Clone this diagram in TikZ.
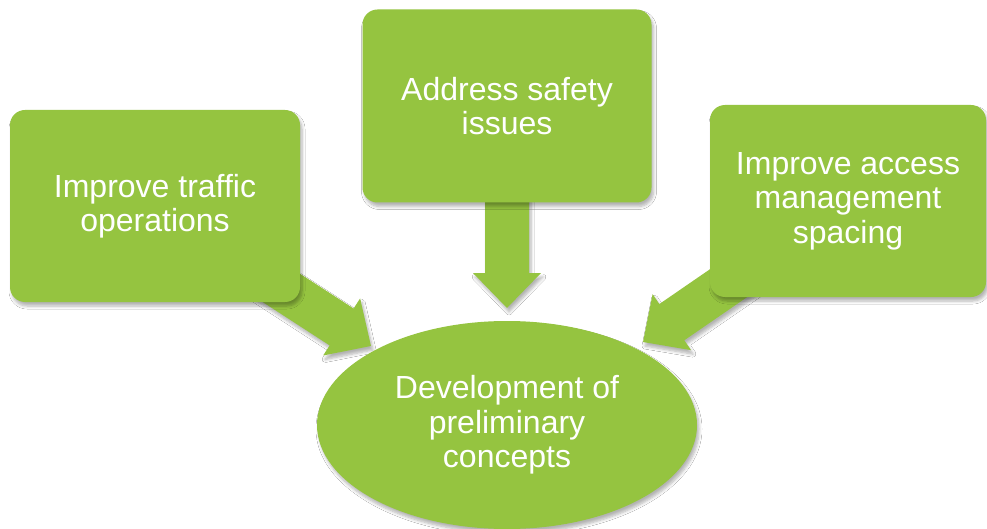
\documentclass[tikz,border=0pt]{standalone}
\usepackage{fontspec}
\setmainfont{Liberation Sans}
\usetikzlibrary{shapes.geometric}
\usetikzlibrary{calc}
\usetikzlibrary{backgrounds}
\usetikzlibrary{shadows.blur}

\definecolor{leaf}{RGB}{149,196,64}

\tikzset{
  soft/.style={blur shadow={shadow xshift=2pt, shadow yshift=-4pt,
      shadow blur radius=3pt, shadow blur steps=6, shadow opacity=30}},
  goal/.style={rectangle, rounded corners=15pt, fill=leaf, text=white,
      align=center, font=\fontsize{32}{34.5}\selectfont, soft},
  push/.style={fill=leaf, soft}
}

% fat arrow from #1 to the tip #2
\newcommand{\blockarrow}[2]{%
  \coordinate (base) at ($(#2)!35pt!(#1)$);
  \fill[push] ($(#1)!22pt!90:(#2)$) -- ($(base)!22pt!90:(#2)$)
    -- ($(base)!34pt!90:(#2)$) -- (#2) -- ($(base)!34pt!-90:(#2)$)
    -- ($(base)!22pt!-90:(#2)$) -- ($(#1)!22pt!-90:(#2)$) -- cycle;}

\begin{document}
\begin{tikzpicture}[x=1pt,y=-1pt]
  \useasboundingbox (0,0) rectangle (987,529);

  \node[goal, minimum width=290pt, minimum height=192pt] (traffic) at (155,206)
    {Improve traffic\\operations};
  \node[goal, minimum width=289pt, minimum height=193pt] (safety) at (507,106)
    {Address safety\\issues};
  \node[goal, minimum width=276pt, minimum height=192pt] (access) at (848,201)
    {Improve access\\management\\spacing};

  \node[ellipse, fill=leaf, text=white, align=center, soft,
    font=\fontsize{32}{34.5}\selectfont,
    minimum width=380pt, minimum height=208pt] (concepts) at (507,425)
    {Development of\\preliminary\\concepts};

  \coordinate (ltip) at (371,346);
  \coordinate (mtip) at (507,308);
  \coordinate (rtip) at (643,342);

  \begin{scope}[on background layer]
    \fill[white] (0,0) rectangle (987,529);
    \blockarrow{traffic}{ltip}
    \blockarrow{safety}{mtip}
    \blockarrow{access}{rtip}
  \end{scope}
\end{tikzpicture}
\end{document}
